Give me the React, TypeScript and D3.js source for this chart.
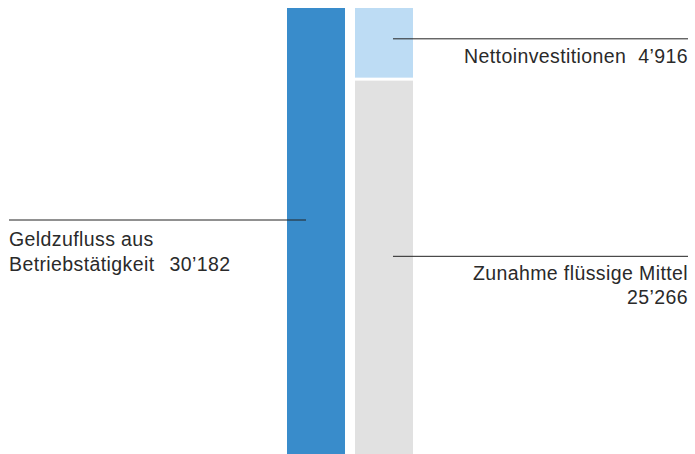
import React, { useEffect, useRef } from 'react';
import * as d3 from 'd3';

// Geldflussrechnung (in Tausend)
const inflowLabel = ['Geldzufluss aus', 'Betriebstätigkeit'];
const inflowValue = 30182;

const outflowKeys = ['invest', 'liquid'];
const outflowLabels = [['Nettoinvestitionen'], ['Zunahme flüssige Mittel']];
const outflowValues = [4916, 25266];
const outflowColors = ['#bddcf4', '#e1e1e1'];

const fmt = (v: number) => d3.format(',')(v).replace(/,/g, '\u2019');

const W = 695;
const H = 454;

const App: React.FC = () => {
  const svgRef = useRef<SVGSVGElement>(null);

  useEffect(() => {
    if (!svgRef.current) return;
    const svg = d3.select(svgRef.current);
    svg.selectAll('*').remove();

    const margin = { top: 8, bottom: 0 };
    const y = d3.scaleLinear()
      .domain([0, inflowValue])
      .range([margin.top, H - margin.bottom]);

    const x = d3.scaleBand()
      .domain(['in', 'out'])
      .range([287, 413])
      .paddingInner(0.147);

    const font = '"Liberation Sans", Arial, sans-serif';
    const textCol = '#2a2a2a';
    const fs = 19.5;
    const ls = 0.4;

    const addText = (xx: number, yy: number, anchor: string) =>
      svg.append('text')
        .attr('x', xx).attr('y', yy)
        .attr('text-anchor', anchor)
        .attr('font-family', font).attr('font-size', fs)
        .attr('letter-spacing', ls)
        .attr('fill', textCol);

    // left bar
    svg.append('rect')
      .attr('x', x('in')!)
      .attr('y', y(0))
      .attr('width', x.bandwidth())
      .attr('height', y(inflowValue) - y(0))
      .attr('fill', '#398ccb');

    // right stacked bar
    const stackRow: Record<string, number> = {};
    outflowKeys.forEach((k, i) => (stackRow[k] = outflowValues[i]));
    const series = d3.stack<Record<string, number>>().keys(outflowKeys)([stackRow]);
    const gap = 3;

    svg.selectAll('.seg')
      .data(series)
      .enter()
      .append('rect')
      .attr('class', 'seg')
      .attr('x', x('out')!)
      .attr('y', d => y(d[0][0]))
      .attr('width', x.bandwidth())
      .attr('height', (d, i) => y(d[0][1]) - y(d[0][0]) - (i < series.length - 1 ? gap : 0))
      .attr('fill', (_, i) => outflowColors[i]);

    // left annotation
    const leftMid = (y(0) + y(inflowValue)) / 2 - 11;
    svg.append('line')
      .attr('x1', 9).attr('x2', x('in')! + 19)
      .attr('y1', leftMid).attr('y2', leftMid)
      .attr('stroke', '#222').attr('stroke-width', 1);

    addText(9, leftMid + 26, 'start').text(inflowLabel[0]);
    const t2 = addText(9, leftMid + 51, 'start');
    t2.append('tspan').text(inflowLabel[1]);
    t2.append('tspan').attr('dx', 15).text(fmt(inflowValue));

    // right annotations
    const offsets = [-4, -11];
    series.forEach((s, i) => {
      const top = y(s[0][0]);
      const bot = y(s[0][1]) - (i < series.length - 1 ? gap : 0);
      const ly = (top + bot) / 2 + offsets[i];
      svg.append('line')
        .attr('x1', x('out')! + 38).attr('x2', 688)
        .attr('y1', ly).attr('y2', ly)
        .attr('stroke', '#222').attr('stroke-width', 1);

      const lbl = outflowLabels[i];
      if (i === 0) {
        const t = addText(688, ly + 24, 'end');
        t.append('tspan').text(lbl[0]);
        t.append('tspan').attr('dx', 12).text(fmt(outflowValues[i]));
      } else {
        addText(688, ly + 24, 'end').text(lbl[0]);
        addText(688, ly + 48, 'end').text(fmt(outflowValues[i]));
      }
    });
  }, []);

  return (
    <div style={{ position: 'fixed', left: 0, top: 0, width: W, height: H, background: '#fff' }}>
      <svg ref={svgRef} width={W} height={H} />
    </div>
  );
};

export default App;
